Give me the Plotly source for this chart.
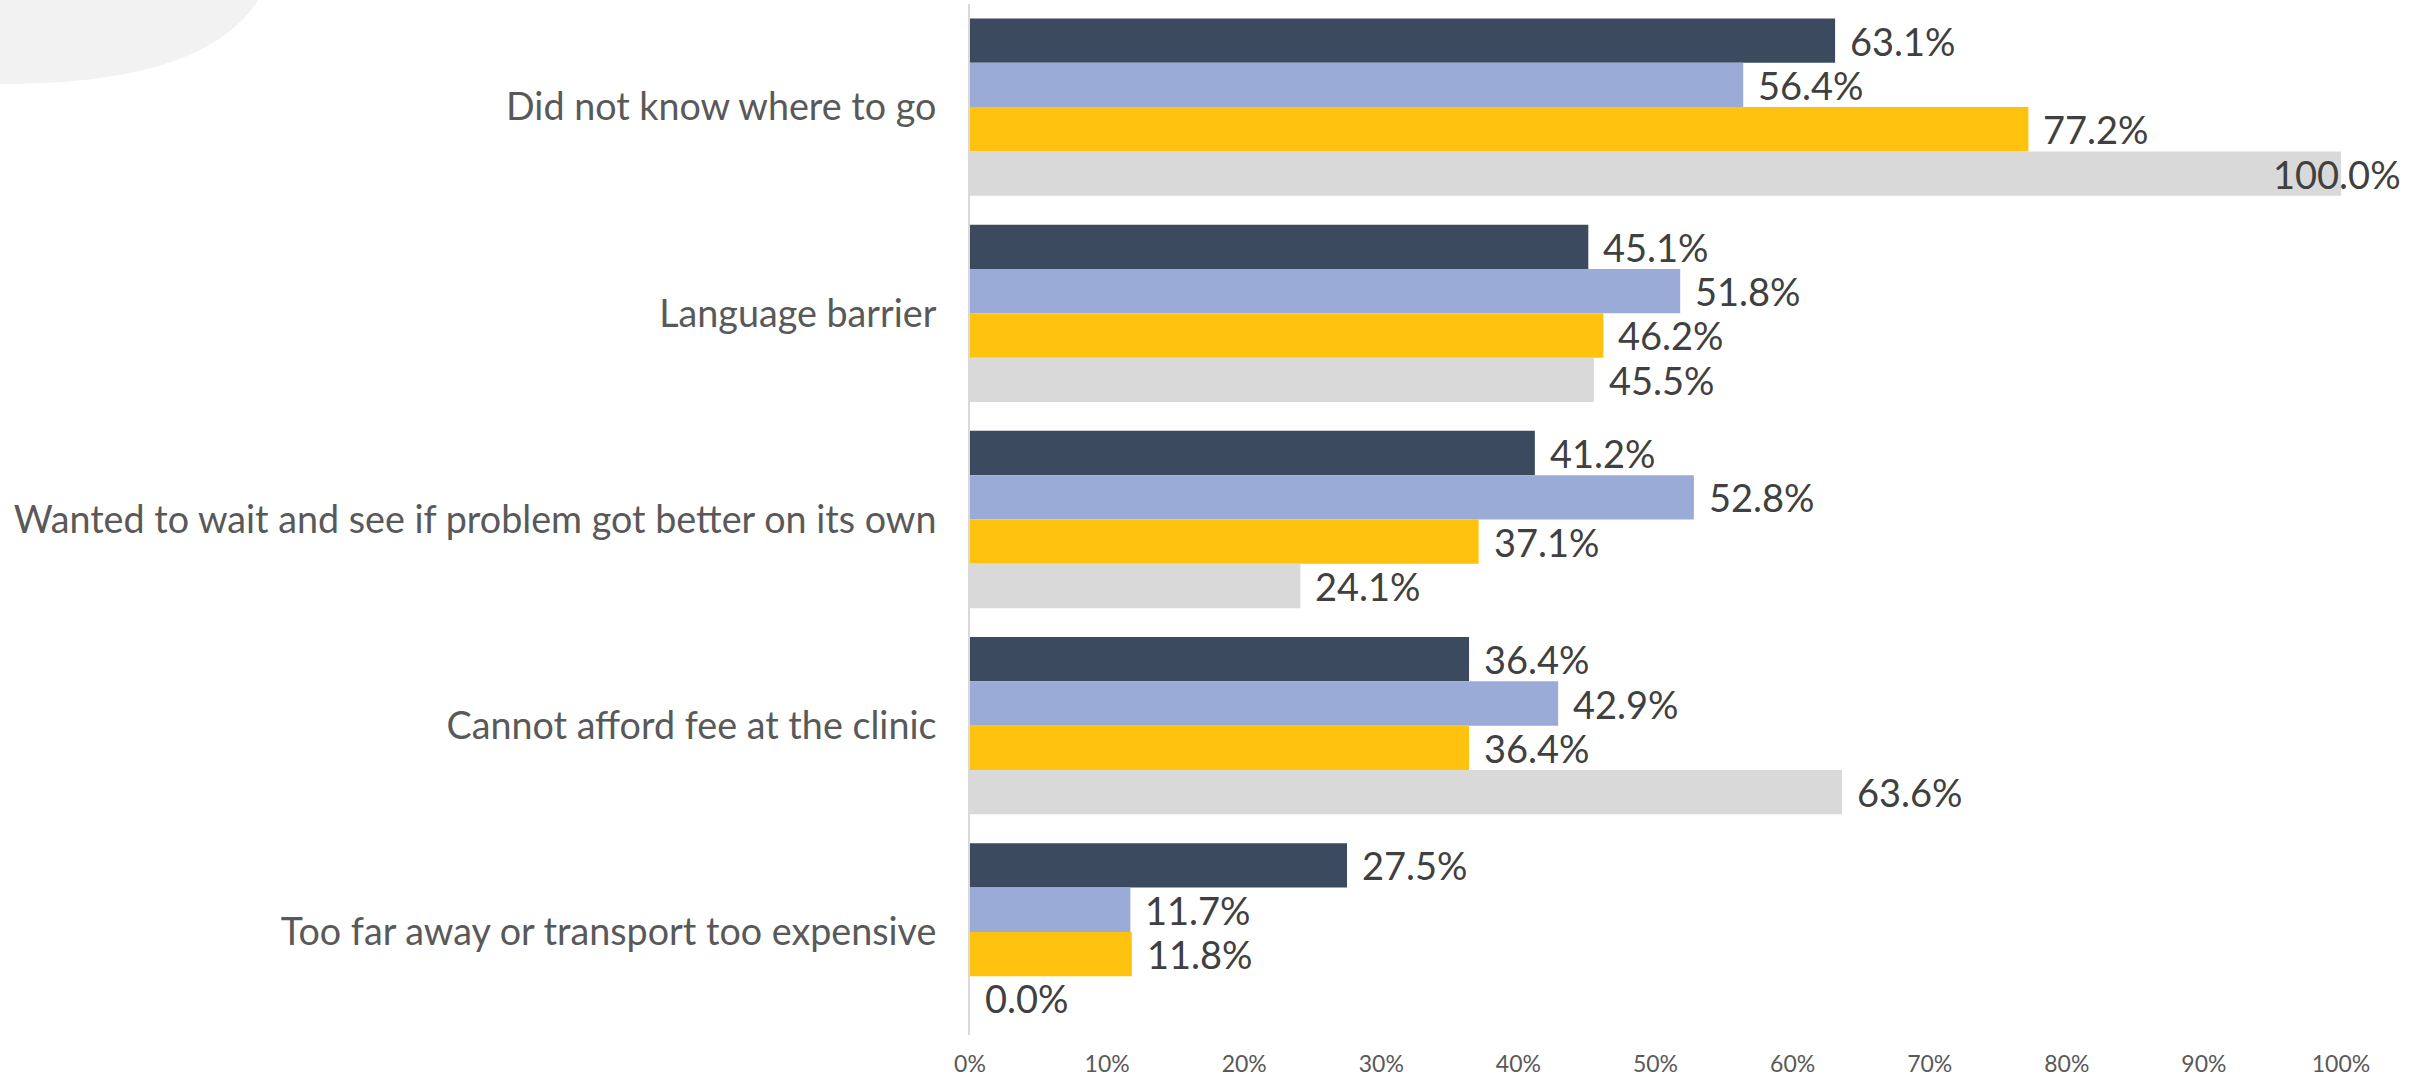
import plotly.graph_objects as go

categories = [
    "Did not know where to go",
    "Language barrier",
    "Wanted to wait and see if problem got better on its own",
    "Cannot afford fee at the clinic",
    "Too far away or transport too expensive",
]
series_names = ["Series 1", "Series 2", "Series 3", "Series 4"]
series_1 = [63.1, 45.1, 41.2, 36.4, 27.5]
series_2 = [56.4, 51.8, 52.8, 42.9, 11.7]
series_3 = [77.2, 46.2, 37.1, 36.4, 11.8]
series_4 = [100.0, 45.5, 24.1, 63.6, 0.0]
colors = ["#3B4A5E", "#99ABD6", "#FFC20E", "#D9D9D9"]
tick_vals = [0, 10, 20, 30, 40, 50, 60, 70, 80, 90, 100]
tick_text = ["0%", "10%", "20%", "30%", "40%", "50%", "60%", "70%", "80%", "90%", "100%"]

W, H = 2423, 1079
ML, MR, MT, MB = 970, 82, 4, 44
BARGAP = 0.14

all_series = [series_1, series_2, series_3, series_4]

fig = go.Figure()
for name, vals, col in zip(series_names, all_series, colors):
    fig.add_trace(go.Bar(
        y=categories, x=vals, name=name, orientation="h",
        marker=dict(color=col, line=dict(width=0)),
        showlegend=False, hoverinfo="x+y",
    ))

# data labels as annotations
plot_h = H - MT - MB
bar_px = plot_h / len(categories) * (1 - BARGAP) / len(all_series)
annotations = []
for si, vals in enumerate(all_series):
    yshift = (1.5 - si) * bar_px
    for cat, v in zip(categories, vals):
        if v >= 95:
            anchor, xs = "right", 62
        else:
            anchor, xs = "left", 13
        annotations.append(dict(
            x=v, y=cat, xref="x", yref="y", text=f"{v:.1f}%",
            showarrow=False, xanchor=anchor, yanchor="middle",
            xshift=xs, yshift=yshift,
            font=dict(family="Lato", size=38, color="#404040"),
        ))

fig.update_layout(
    width=W, height=H,
    margin=dict(l=ML, r=MR, t=MT, b=MB, pad=0, autoexpand=False),
    barmode="group", bargap=BARGAP, bargroupgap=0,
    plot_bgcolor="white", paper_bgcolor="white",
    annotations=annotations,
    shapes=[dict(
        type="path", xref="paper", yref="paper",
        xsizemode="pixel", ysizemode="pixel", xanchor=0, yanchor=1,
        path="M -975,10 L -712,10 L -712,4 C -750,-56 -840,-80 -970,-80 L -975,-80 Z",
        fillcolor="#F2F2F2", line=dict(width=0), layer="below",
    )],
    xaxis=dict(
        range=[0, 100], tickvals=tick_vals, ticktext=tick_text,
        showgrid=False, zeroline=False, showline=False,
        tickfont=dict(family="Lato", size=23, color="#595959"),
        ticks="", ticklabelstandoff=13, automargin=False,
    ),
    yaxis=dict(
        autorange="reversed", showgrid=False, zeroline=False,
        showline=True, linecolor="#D9D9D9", linewidth=2,
        ticks="", ticklabelstandoff=24, automargin=False,
        tickfont=dict(family="Lato", size=37.7, color="#595959"),
    ),
)

fig.write_html("out.html", config={"displayModeBar": False},
               post_script="document.body.style.margin='0';")
